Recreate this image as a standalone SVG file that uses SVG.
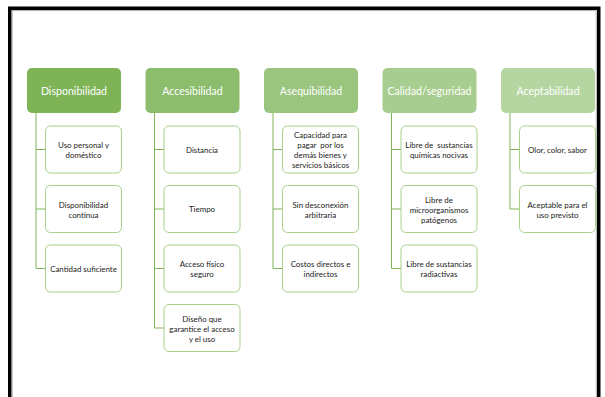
<svg xmlns="http://www.w3.org/2000/svg" width="605" height="397" viewBox="0 0 605 397">
<style>
.hd{stroke:none}
.ht{font-family:Lato,"Liberation Sans",sans-serif;font-size:10.6px;fill:#ffffff;text-anchor:middle}
.cb{fill:#ffffff;stroke:#a9d18e;stroke-width:1}
.ct{font-family:Lato,"Liberation Sans",sans-serif;font-size:7.9px;fill:#222222;text-anchor:middle}
.ln{fill:none;stroke:#7fb356;stroke-width:1}
</style>
<rect width="605" height="397" fill="#ffffff"/>
<path d="M9.75,397 V8.25 H598.75 V397" fill="none" stroke="#000000" stroke-width="3.5"/>
<path d="M12.2,397 V10.6 H596.3 V397" fill="none" stroke="#9a9a9a" stroke-width="0.8"/>

<g id="connectors">
<path class="ln" d="M36,113 V268.5 M36,149.5 H45.5 M36,209 H45.5 M36,268.5 H45.5"/>
<path class="ln" d="M154.5,113 V328 M154.5,149.5 H164 M154.5,209 H164 M154.5,268.5 H164 M154.5,328 H164"/>
<path class="ln" d="M273,113 V268.5 M273,149.5 H282.5 M273,209 H282.5 M273,268.5 H282.5"/>
<path class="ln" d="M391.5,113 V268.5 M391.5,149.5 H401 M391.5,209 H401 M391.5,268.5 H401"/>
<path class="ln" d="M510,113 V209 M510,149.5 H519.5 M510,209 H519.5"/>
</g>

<g id="h1"><rect class="hd" x="27" y="68" width="94" height="45" rx="5" fill="#7eb356"/><text class="ht" x="74" y="94.5">Disponibilidad</text></g>
<g id="h2"><rect class="hd" x="145.5" y="68" width="94" height="45" rx="5" fill="#8cbd6c"/><text class="ht" x="192.5" y="94.5">Accesibilidad</text></g>
<g id="h3"><rect class="hd" x="264" y="68" width="94" height="45" rx="5" fill="#9ac57f"/><text class="ht" x="311" y="94.5">Asequibilidad</text></g>
<g id="h4"><rect class="hd" x="382.5" y="68" width="94" height="45" rx="5" fill="#a8cd90"/><text class="ht" x="429.5" y="94.5">Calidad/seguridad</text></g>
<g id="h5"><rect class="hd" x="501" y="68" width="94" height="45" rx="5" fill="#b5d6a1"/><text class="ht" x="548" y="94.5">Aceptabilidad</text></g>

<g id="c1a"><rect class="cb" x="45.5" y="126" width="76" height="47" rx="5"/><text class="ct" x="83.5" y="148">Uso personal y</text><text class="ct" x="83.5" y="158.3">doméstico</text></g>
<g id="c1b"><rect class="cb" x="45.5" y="185.5" width="76" height="47" rx="5"/><text class="ct" x="83.5" y="207.5">Disponibilidad</text><text class="ct" x="83.5" y="217.8">continua</text></g>
<g id="c1c"><rect class="cb" x="45.5" y="245" width="76" height="47" rx="5"/><text class="ct" x="83.5" y="271.5">Cantidad suficiente</text></g>

<g id="c2a"><rect class="cb" x="164" y="126" width="76" height="47" rx="5"/><text class="ct" x="202" y="152.5">Distancia</text></g>
<g id="c2b"><rect class="cb" x="164" y="185.5" width="76" height="47" rx="5"/><text class="ct" x="202" y="212">Tiempo</text></g>
<g id="c2c"><rect class="cb" x="164" y="245" width="76" height="47" rx="5"/><text class="ct" x="202" y="267">Acceso físico</text><text class="ct" x="202" y="277.3">seguro</text></g>
<g id="c2d"><rect class="cb" x="164" y="304.5" width="76" height="47" rx="5"/><text class="ct" x="202" y="321.5">Diseño que</text><text class="ct" x="202" y="331.8">garantice el acceso</text><text class="ct" x="202" y="342.1">y el uso</text></g>

<g id="c3a"><rect class="cb" x="282.5" y="126" width="76" height="47" rx="5"/><text class="ct" x="320.5" y="137.5">Capacidad para</text><text class="ct" x="320.5" y="147.8" xml:space="preserve">pagar  por los</text><text class="ct" x="320.5" y="158.1">demás bienes y</text><text class="ct" x="320.5" y="168.4">servicios básicos</text></g>
<g id="c3b"><rect class="cb" x="282.5" y="185.5" width="76" height="47" rx="5"/><text class="ct" x="320.5" y="207.5">Sin desconexión</text><text class="ct" x="320.5" y="217.8">arbitraria</text></g>
<g id="c3c"><rect class="cb" x="282.5" y="245" width="76" height="47" rx="5"/><text class="ct" x="320.5" y="267">Costos directos e</text><text class="ct" x="320.5" y="277.3">indirectos</text></g>

<g id="c4a"><rect class="cb" x="401" y="126" width="76" height="47" rx="5"/><text class="ct" x="439" y="148" xml:space="preserve">Libre de  sustancias</text><text class="ct" x="439" y="158.3">químicas nocivas</text></g>
<g id="c4b"><rect class="cb" x="401" y="185.5" width="76" height="47" rx="5"/><text class="ct" x="439" y="202.5">Libre de</text><text class="ct" x="439" y="212.8">microorganismos</text><text class="ct" x="439" y="223.1">patógenos</text></g>
<g id="c4c"><rect class="cb" x="401" y="245" width="76" height="47" rx="5"/><text class="ct" x="439" y="267">Libre de sustancias</text><text class="ct" x="439" y="277.3">radiactivas</text></g>

<g id="c5a"><rect class="cb" x="519.5" y="126" width="76" height="47" rx="5"/><text class="ct" x="557.5" y="152.5">Olor, color, sabor</text></g>
<g id="c5b"><rect class="cb" x="519.5" y="185.5" width="76" height="47" rx="5"/><text class="ct" x="557.5" y="207.5">Aceptable para el</text><text class="ct" x="557.5" y="217.8">uso previsto</text></g>
</svg>
